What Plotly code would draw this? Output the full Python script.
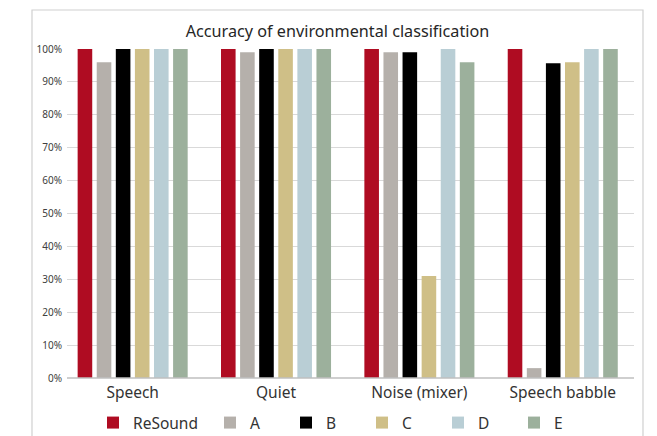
import plotly.graph_objects as go

categories = ["Speech", "Quiet", "Noise (mixer)", "Speech babble"]
series_names = ["ReSound", "A", "B", "C", "D", "E"]
resound = [1.00, 1.00, 1.00, 1.00]
a_vals = [0.96, 0.99, 0.99, 0.03]
b_vals = [1.00, 1.00, 0.99, 0.957]
c_vals = [1.00, 1.00, 0.31, 0.96]
d_vals = [1.00, 1.00, 1.00, 1.00]
e_vals = [1.00, 1.00, 0.96, 1.00]
colors = ["#AF0C22", "#B5B0AB", "#000000", "#CFBF87", "#B9CED5", "#9CB09C"]
values = [resound, a_vals, b_vals, c_vals, d_vals, e_vals]
y_ticks = [i / 10 for i in range(11)]
y_tick_labels = [f"{i*10}%" for i in range(11)]

FONT = "Noto Sans, Open Sans, sans-serif"

fig = go.Figure()
for i, (name, vals, col) in enumerate(zip(series_names, values, colors)):
    fig.add_trace(go.Bar(x=categories, y=vals, name=name,
                         legend="legend" if i == 0 else "legend2",
                         marker=dict(color=col, line=dict(width=0))))

W, H = 657, 436
ml, mr, mt, mb = 67, 23, 49, 58
pw, ph = W - ml - mr, H - mt - mb

def px_x(x):
    return (x - ml) / pw

def px_y(y):
    return (H - mb - y) / ph

leg_common = dict(orientation="h", xref="container", yref="container", xanchor="left",
                  y=1 - 423 / H, yanchor="middle", font=dict(size=15.5, color="#333333"),
                  itemclick=False, bgcolor="rgba(0,0,0,0)", borderwidth=0)

fig.update_layout(
    width=W, height=H,
    margin=dict(l=ml, r=mr, t=mt, b=mb, pad=0, autoexpand=False),
    paper_bgcolor="white", plot_bgcolor="white",
    barmode="group", bargap=0.201, bargroupgap=0.236,
    font=dict(family=FONT, color="#333333"),
    title=dict(text="Accuracy of environmental classification", xref="container", yref="container",
               x=337.5 / W, xanchor="center",
               y=1 - 31 / H, yanchor="middle", font=dict(size=16.2, color="#262626")),
    showlegend=True,
    legend=dict(x=93 / W, **leg_common),
    legend2=dict(x=210 / W, entrywidth=31, **leg_common),
    xaxis=dict(showgrid=False, showline=False, ticks="", range=[-0.458, 3.497],
               tickfont=dict(size=15.5, color="#333333"), ticklabelstandoff=3),
    yaxis=dict(range=[0, 1], tickvals=y_ticks, ticktext=y_tick_labels, showgrid=True,
               gridcolor="#D9D9D9", gridwidth=1, zeroline=False, showline=False,
               tickfont=dict(size=10, color="#404040"), ticks="", ticklabelstandoff=4),
    shapes=[
        dict(type="line", xref="paper", yref="paper", x0=0, x1=1, y0=0, y1=0,
             line=dict(color="#BFBFBF", width=1.5)),
        dict(type="rect", xref="paper", yref="paper", x0=px_x(32), x1=px_x(643),
             y0=px_y(10), y1=px_y(460), line=dict(color="#D0D0D0", width=1.2)),
    ],
)

fig.write_html("out.html", config={"displayModeBar": False},
               post_script="document.body.style.margin='0';document.body.style.overflow='hidden';")
